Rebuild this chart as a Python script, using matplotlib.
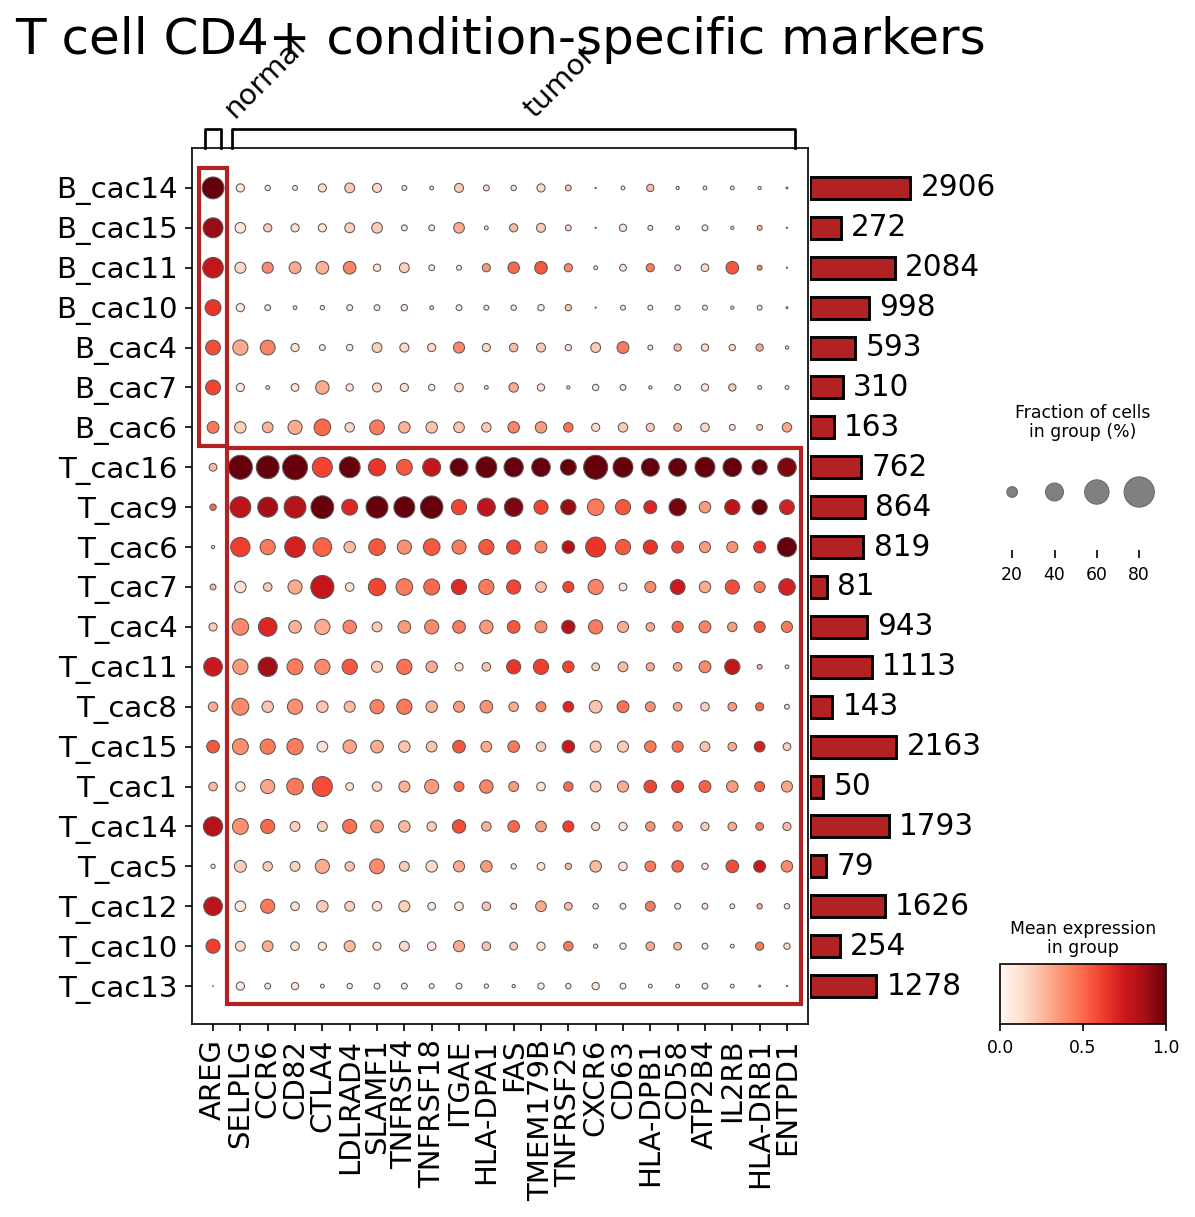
import numpy as np
import matplotlib
matplotlib.use("Agg")
import matplotlib.pyplot as plt
from matplotlib.patches import Rectangle
from matplotlib.cm import ScalarMappable
from matplotlib.colors import Normalize

# ── data ──────────────────────────────────────────────────────────────────────
groups = ["B_cac14", "B_cac15", "B_cac11", "B_cac10", "B_cac4", "B_cac7", "B_cac6",
          "T_cac16", "T_cac9", "T_cac6", "T_cac7", "T_cac4", "T_cac11", "T_cac8",
          "T_cac15", "T_cac1", "T_cac14", "T_cac5", "T_cac12", "T_cac10", "T_cac13"]
normal_genes = ["AREG"]
tumor_genes = ["SELPLG", "CCR6", "CD82", "CTLA4", "LDLRAD4", "SLAMF1", "TNFRSF4",
               "TNFRSF18", "ITGAE", "HLA-DPA1", "FAS", "TMEM179B", "TNFRSF25", "CXCR6",
               "CD63", "HLA-DPB1", "CD58", "ATP2B4", "IL2RB", "HLA-DRB1", "ENTPD1"]
normal_rows = groups[:7]
tumor_rows = groups[7:]
cell_counts = [2906, 272, 2084, 998, 593, 310, 163, 762, 864, 819, 81, 943, 1113, 143,
               2163, 50, 1793, 79, 1626, 254, 1278]

# fraction of cells expressing (%)
frac = [
    [52, 14, 8, 7, 14, 18, 16, 7, 5, 16, 9, 8, 14, 9, 1, 5, 12, 4, 5, 5, 4, 2],
    [46, 20, 14, 14, 14, 18, 20, 9, 9, 20, 5, 14, 16, 9, 1, 12, 7, 5, 9, 4, 7, 1],
    [48, 21, 21, 23, 25, 25, 12, 18, 9, 7, 14, 22, 25, 14, 5, 11, 14, 9, 13, 25, 7, 1],
    [34, 14, 9, 5, 6, 9, 9, 10, 5, 9, 7, 8, 10, 10, 1, 7, 7, 7, 7, 4, 7, 2],
    [31, 32, 31, 14, 9, 10, 18, 16, 14, 21, 14, 15, 16, 10, 18, 23, 7, 12, 12, 10, 12, 4],
    [31, 14, 5, 13, 27, 12, 16, 14, 10, 15, 5, 17, 12, 4, 10, 9, 4, 9, 12, 12, 5, 5],
    [23, 22, 20, 29, 36, 17, 31, 22, 22, 20, 17, 22, 22, 17, 14, 17, 14, 13, 15, 9, 9, 17],
    [13, 59, 55, 62, 46, 49, 38, 34, 40, 40, 49, 44, 42, 34, 59, 46, 40, 40, 46, 42, 32, 42],
    [10, 49, 46, 52, 55, 34, 52, 49, 54, 32, 40, 42, 29, 32, 36, 32, 26, 38, 22, 32, 32, 31],
    [4, 44, 32, 48, 42, 22, 36, 29, 36, 29, 32, 29, 23, 25, 46, 32, 29, 23, 21, 21, 23, 44],
    [9, 22, 15, 29, 56, 15, 38, 36, 34, 32, 32, 29, 20, 21, 32, 13, 21, 31, 22, 29, 21, 36],
    [14, 36, 42, 25, 32, 27, 18, 25, 29, 25, 27, 25, 23, 27, 29, 21, 15, 21, 23, 17, 21, 21],
    [42, 32, 44, 34, 32, 32, 21, 32, 22, 14, 15, 29, 32, 22, 13, 18, 14, 15, 23, 32, 7, 5],
    [17, 37, 22, 32, 22, 21, 29, 32, 22, 21, 25, 17, 18, 20, 25, 23, 18, 15, 15, 15, 14, 7],
    [25, 34, 32, 35, 20, 27, 25, 22, 20, 25, 20, 22, 17, 25, 21, 21, 22, 21, 18, 15, 20, 13],
    [15, 17, 29, 36, 46, 13, 17, 21, 29, 18, 27, 18, 15, 17, 20, 21, 25, 23, 23, 22, 18, 21],
    [44, 34, 29, 18, 18, 29, 25, 22, 17, 27, 17, 22, 20, 21, 14, 14, 17, 17, 14, 15, 13, 14],
    [6, 23, 17, 18, 29, 17, 31, 18, 22, 21, 22, 8, 13, 10, 22, 15, 20, 22, 10, 25, 23, 22],
    [42, 20, 29, 15, 22, 18, 17, 21, 13, 15, 15, 9, 20, 13, 8, 9, 18, 9, 9, 7, 8, 8],
    [29, 18, 20, 15, 14, 21, 14, 18, 15, 21, 15, 13, 14, 17, 6, 10, 15, 13, 9, 5, 14, 10],
    [0.5, 14, 9, 12, 5, 8, 9, 9, 7, 9, 6, 4, 10, 8, 12, 9, 5, 5, 9, 5, 2, 1],
]

# scaled mean expression (0-1)
expr = [
    [1.0, .10, .10, .08, .15, .20, .15, .08, .08, .20, .15, .10, .15, .20, .30, .05, .25, .10, .08, .08, .08, .15],
    [.90, .10, .20, .12, .10, .18, .20, .10, .10, .30, .10, .25, .20, .15, .30, .10, .10, .10, .10, .10, .25, .30],
    [.78, .15, .40, .30, .28, .42, .10, .18, .10, .05, .35, .50, .55, .40, .10, .12, .45, .15, .15, .55, .40, .30],
    [.65, .08, .10, .08, .08, .08, .08, .10, .08, .10, .10, .10, .08, .20, .30, .08, .08, .08, .08, .08, .08, .15],
    [.58, .30, .42, .12, .08, .08, .18, .15, .15, .40, .15, .25, .20, .12, .20, .45, .10, .25, .15, .15, .30, .10],
    [.60, .08, .10, .12, .30, .10, .15, .12, .10, .15, .08, .30, .08, .10, .08, .08, .08, .10, .10, .20, .05, .05],
    [.45, .18, .28, .30, .50, .15, .45, .28, .22, .22, .20, .42, .35, .48, .15, .20, .20, .25, .15, .12, .20, .32],
    [.25, 1.0, 1.0, 1.0, .60, 1.0, .65, .55, .78, 1.0, 1.0, 1.0, 1.0, 1.0, 1.0, 1.0, 1.0, 1.0, 1.0, 1.0, 1.0, .95],
    [.50, .80, .87, .82, 1.0, .70, 1.0, 1.0, 1.0, .60, .80, .95, .60, .90, .45, .55, .70, .97, .35, .80, 1.0, .72],
    [.10, .62, .45, .72, .52, .25, .55, .38, .55, .45, .55, .60, .42, .82, .65, .55, .65, .60, .35, .38, .65, 1.0],
    [.25, .12, .20, .30, .78, .12, .60, .45, .50, .68, .45, .60, .25, .60, .42, .12, .40, .75, .30, .58, .45, .72],
    [.20, .40, .70, .28, .30, .42, .20, .35, .40, .45, .35, .55, .40, .82, .45, .30, .30, .50, .42, .35, .55, .45],
    [.75, .35, .88, .45, .40, .55, .20, .48, .30, .12, .22, .65, .62, .60, .18, .25, .30, .30, .40, .78, .25, .10],
    [.30, .40, .22, .38, .22, .25, .42, .45, .28, .35, .38, .30, .42, .70, .22, .48, .38, .30, .18, .35, .52, .15],
    [.55, .38, .45, .45, .12, .32, .30, .22, .22, .55, .30, .45, .20, .75, .20, .20, .45, .48, .22, .30, .72, .18],
    [.25, .10, .32, .45, .58, .12, .15, .28, .35, .48, .42, .35, .12, .50, .20, .30, .60, .60, .52, .35, .52, .32],
    [.82, .38, .50, .18, .18, .48, .35, .25, .20, .58, .28, .50, .35, .62, .15, .12, .38, .40, .20, .30, .45, .25],
    [.10, .18, .20, .18, .30, .22, .40, .20, .15, .30, .35, .10, .10, .25, .25, .12, .45, .50, .10, .58, .75, .40],
    [.80, .10, .45, .12, .20, .18, .12, .18, .08, .10, .22, .15, .30, .25, .05, .10, .45, .12, .10, .10, .30, .10],
    [.62, .15, .30, .12, .10, .25, .10, .15, .10, .30, .22, .20, .12, .45, .10, .10, .30, .25, .08, .05, .45, .15],
    [.80, .08, .10, .10, .05, .05, .05, .08, .05, .05, .05, .05, .05, .10, .10, .05, .05, .05, .10, .05, .10, .20],
]

legend_fracs = [20, 40, 60, 80]

# ── layout helpers (pixel boxes on a 1195x1217 canvas) ────────────────────────
W, H, DPI = 1195, 1217, 150
fig = plt.figure(figsize=(W / DPI, H / DPI), dpi=DPI)


def px_axes(left, top, right, bottom):
    return fig.add_axes([left / W, 1 - bottom / H, (right - left) / W, (bottom - top) / H])


DOT_MAX, DOT_S = 90.0, 251.0
BOX_RED = "#b22222"


def dot_size(f):
    return DOT_S * (np.asarray(f, dtype=float) / DOT_MAX) ** 1.5


genes = normal_genes + tumor_genes
F = np.array(frac, dtype=float)
E = np.array(expr, dtype=float)
xs, ys = np.meshgrid(np.arange(len(genes)), np.arange(len(groups)))
XLIM = (-0.77, len(genes) - 1 + 0.77)

# ── main dot plot ─────────────────────────────────────────────────────────────
ax = px_axes(192, 148, 808, 1024)
ax.scatter(xs.ravel(), ys.ravel(), s=dot_size(F.ravel()), c=E.ravel(), cmap="Reds",
           vmin=0, vmax=1, edgecolors="0.35", linewidths=0.5, zorder=3)
ax.set_xlim(*XLIM)
ax.set_ylim(len(groups) - 0.05, -1.0)
ax.set_xticks(range(len(genes)))
ax.set_xticklabels(genes, rotation=90, fontsize=14)
ax.set_yticks(range(len(groups)))
ax.set_yticklabels(groups, fontsize=14)
for sp in ax.spines.values():
    sp.set_linewidth(0.8)

# highlight boxes: normal genes x normal groups, tumor genes x tumor groups
n_norm, n_nr = len(normal_genes), len(normal_rows)
ax.add_patch(Rectangle((-0.5, -0.5), n_norm, n_nr - 0.04, fill=False,
                       ec=BOX_RED, lw=2, zorder=4))
ax.add_patch(Rectangle((n_norm - 0.48, n_nr - 0.48), len(tumor_genes) - 0.02,
                       len(tumor_rows) - 0.07, fill=False, ec=BOX_RED, lw=2, zorder=4))

# ── gene-group brackets ───────────────────────────────────────────────────────
axb = px_axes(192, 100, 808, 148)
axb.set_xlim(*XLIM)
axb.set_ylim(0, 48)
axb.axis("off")
start = 0
for name, gl in [("normal", normal_genes), ("tumor", tumor_genes)]:
    a, b = start - 0.29, start + len(gl) - 1 + 0.29
    axb.plot([a, a, b, b], [0, 19, 19, 0], color="black", lw=1.3, clip_on=False)
    mid = start + (len(gl) - 1) / 2
    axb.text(mid + 0.2, 25, name, rotation=45, ha="left", va="bottom", fontsize=14)
    start += len(gl)

# ── cell-count bars (sqrt scale) ──────────────────────────────────────────────
axc = px_axes(810, 148, 1000, 1024)
axc.set_xscale("function", functions=(lambda v: np.sqrt(np.clip(v, 0, None)), np.square))
axc.barh(np.arange(len(groups)), cell_counts, height=0.55, color=BOX_RED,
         edgecolor="black", linewidth=1.4)
for i, n in enumerate(cell_counts):
    axc.annotate(f"{n}", (n, i), xytext=(5, 0), textcoords="offset points",
                 va="center", ha="left", fontsize=14.2, annotation_clip=False)
axc.set_xlim(0, 3.61 * max(cell_counts))
axc.set_ylim(ax.get_ylim())
axc.axis("off")

# ── size legend ───────────────────────────────────────────────────────────────
axs = px_axes(991, 434, 1161, 550)
axs.scatter(legend_fracs, [0.5] * len(legend_fracs), s=dot_size(legend_fracs),
            color="gray", edgecolors="dimgray", linewidths=0.5)
axs.set_xlim(10, 90.3)
axs.set_ylim(0, 1)
axs.set_yticks([])
axs.set_xticks(legend_fracs)
axs.set_xticklabels([str(v) for v in legend_fracs], fontsize=8.3)
axs.tick_params(axis="x", length=4)
for sp in axs.spines.values():
    sp.set_visible(False)
fig.text(1083 / W, 1 - 441 / H, "Fraction of cells\nin group (%)", ha="center",
         va="bottom", fontsize=8.3, linespacing=1.1)

# ── colorbar ──────────────────────────────────────────────────────────────────
cax = px_axes(1000, 964, 1166, 1024)
cb = fig.colorbar(ScalarMappable(norm=Normalize(0, 1), cmap="Reds"), cax=cax,
                  orientation="horizontal")
cb.set_ticks([0.0, 0.5, 1.0])
cb.ax.tick_params(labelsize=8.3)
cb.outline.set_linewidth(0.8)
fig.text(1083 / W, 1 - 957 / H, "Mean expression\nin group", ha="center",
         va="bottom", fontsize=8.3, linespacing=1.1)

# ── title ─────────────────────────────────────────────────────────────────────
fig.text(15 / W, 1 - 54 / H, "T cell CD4+ condition-specific markers", fontsize=24,
         ha="left", va="baseline")

fig.savefig("out.png", dpi=DPI)
